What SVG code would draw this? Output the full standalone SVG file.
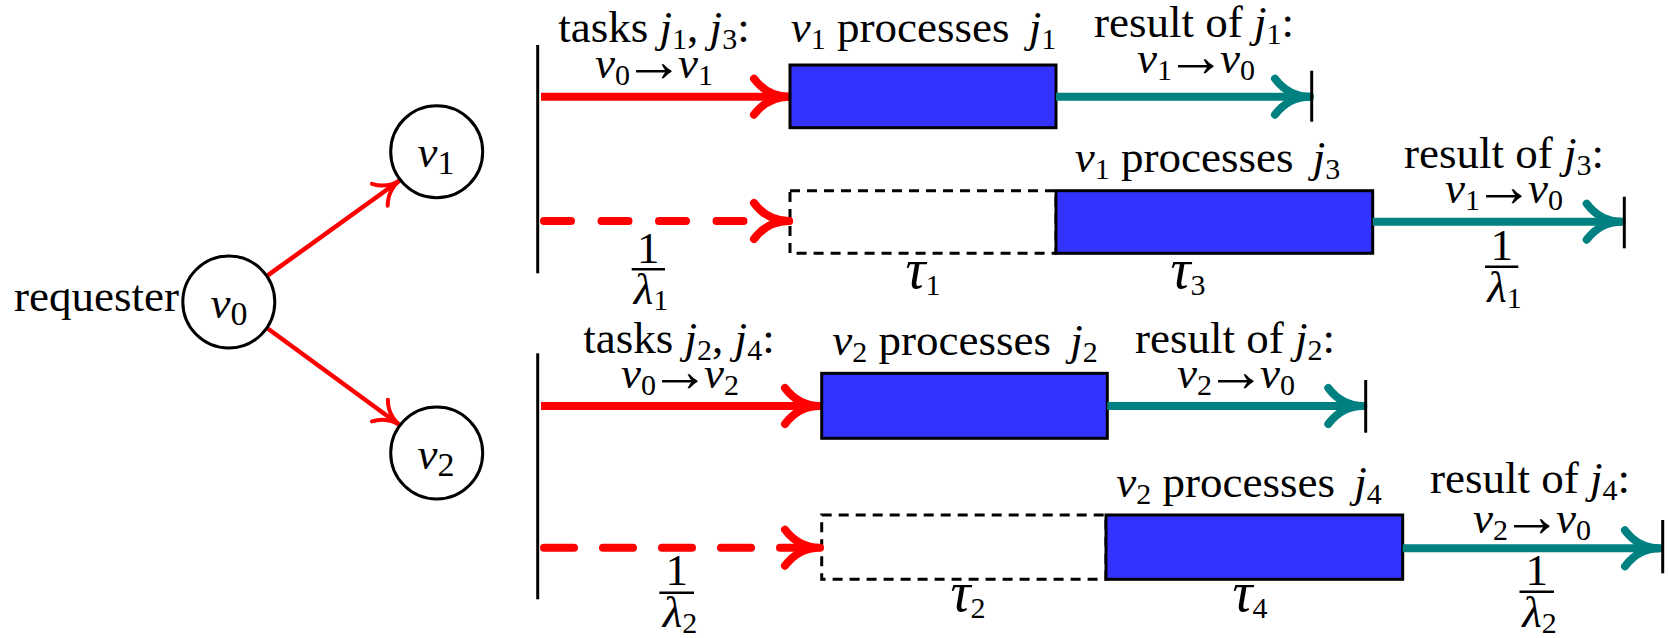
<svg xmlns="http://www.w3.org/2000/svg" width="1669" height="638" viewBox="0 0 1669 638">
<style>
.t{font-family:"Liberation Serif","Times New Roman",serif;font-size:45px;fill:#000}
.i{font-style:italic}
.s{font-size:30px;font-style:normal}
.ar{font-size:60px}
.tau{font-size:56px;font-style:italic}
.node{fill:#fff;stroke:#000;stroke-width:3}
.box{fill:#3333FF;stroke:#000;stroke-width:3}
.dbox{fill:none;stroke:#000;stroke-width:3;stroke-dasharray:10 7}
.axis{stroke:#000;stroke-width:3;fill:none}
.red{stroke:#FF0000;stroke-width:8;fill:none}
.teal{stroke:#008080;stroke-width:8;fill:none}
.bar{stroke:#000;stroke-width:2.5}
</style>
<defs>
<marker id="ahRed" markerUnits="userSpaceOnUse" viewBox="-45 -25 50 50" refX="0" refY="0" markerWidth="50" markerHeight="50" orient="auto" overflow="visible">
<path d="M-35,-18 C-26,-6 -14,0 0,0 C-14,0 -26,6 -35,18" fill="none" stroke="#FF0000" stroke-width="8" stroke-linecap="round" stroke-linejoin="round"/>
</marker>
<marker id="ahTeal" markerUnits="userSpaceOnUse" viewBox="-45 -25 50 50" refX="0" refY="0" markerWidth="50" markerHeight="50" orient="auto" overflow="visible">
<path d="M-35,-18 C-26,-6 -14,0 0,0 C-14,0 -26,6 -35,18" fill="none" stroke="#008080" stroke-width="8" stroke-linecap="round" stroke-linejoin="round"/>
</marker>
<marker id="ahSmall" markerUnits="userSpaceOnUse" viewBox="-35 -20 40 40" refX="0" refY="0" markerWidth="40" markerHeight="40" orient="auto" overflow="visible">
<path d="M-27,-13.5 C-20,-4 -10,0 0,0 C-10,0 -20,4 -27,13.5" fill="none" stroke="#FF0000" stroke-width="4" stroke-linecap="round" stroke-linejoin="round"/>
</marker>
</defs>

<g id="connectors">
<line x1="266" y1="276.7" x2="401.7" y2="179" stroke="#FF0000" stroke-width="4.5" marker-end="url(#ahSmall)"/>
<line x1="266.7" y1="327.7" x2="401.7" y2="426.5" stroke="#FF0000" stroke-width="4.5" marker-end="url(#ahSmall)"/>
</g>

<g id="node-v0">
<circle class="node" cx="228.8" cy="302" r="46"/>
<text class="t" x="229" y="318" text-anchor="middle" font-size="54"><tspan class="i">v</tspan><tspan font-size="34" dy="7">0</tspan></text>
</g>
<g id="node-v1">
<circle class="node" cx="436.7" cy="151.7" r="46"/>
<text class="t" x="436" y="167" text-anchor="middle" font-size="54"><tspan class="i">v</tspan><tspan font-size="34" dy="7">1</tspan></text>
</g>
<g id="node-v2">
<circle class="node" cx="436.7" cy="453" r="46"/>
<text class="t" x="436" y="468.5" text-anchor="middle" font-size="54"><tspan class="i">v</tspan><tspan font-size="34" dy="7">2</tspan></text>
</g>
<g id="label-requester">
<text class="t" x="14" y="310.7" font-size="39.5">requester</text>
</g>

<g id="timeline-v1">
<line class="axis" x1="537.7" y1="45" x2="537.7" y2="273.3"/>
<line class="red" x1="541" y1="96.7" x2="789" y2="96.7" marker-end="url(#ahRed)"/>
<rect class="box" x="790" y="65" width="266" height="62.7"/>
<line class="teal" x1="1056" y1="96.7" x2="1310" y2="96.7" marker-end="url(#ahTeal)"/>
<line class="axis" x1="1311.7" y1="70.7" x2="1311.7" y2="121.7"/>
<rect class="dbox" x="790" y="190.7" width="266" height="62.6"/>
<rect class="box" x="1056" y="190.7" width="316.7" height="62.6"/>
<line class="red" x1="544" y1="221" x2="789" y2="221" stroke-dasharray="27 30.5" stroke-linecap="round" marker-end="url(#ahRed)"/>
<line class="teal" x1="1372.7" y1="221.7" x2="1621.7" y2="221.7" marker-end="url(#ahTeal)"/>
<line class="axis" x1="1624.3" y1="196.7" x2="1624.3" y2="248.3"/>

<text class="t" x="654" y="42" text-anchor="middle">tasks <tspan class="i">j</tspan><tspan class="s" dy="7">1</tspan><tspan dy="-7">, </tspan><tspan class="i">j</tspan><tspan class="s" dy="7">3</tspan><tspan dy="-7">:</tspan></text>
<text class="t" x="654" y="78" text-anchor="middle"><tspan class="i">v</tspan><tspan class="s" dy="7">0</tspan><tspan class="ar" dy="-4" dx="-6">→</tspan><tspan class="i" dy="-3" dx="-6">v</tspan><tspan class="s" dy="7">1</tspan></text>
<text class="t" x="923.5" y="42" text-anchor="middle"><tspan class="i">v</tspan><tspan class="s" dy="7">1</tspan><tspan dy="-7"> processes </tspan><tspan class="i" dx="8">j</tspan><tspan class="s" dy="7">1</tspan></text>
<text class="t" x="1194" y="37" text-anchor="middle">result of <tspan class="i">j</tspan><tspan class="s" dy="7">1</tspan><tspan dy="-7">:</tspan></text>
<text class="t" x="1196" y="73" text-anchor="middle"><tspan class="i">v</tspan><tspan class="s" dy="7">1</tspan><tspan class="ar" dy="-4" dx="-6">→</tspan><tspan class="i" dy="-3" dx="-6">v</tspan><tspan class="s" dy="7">0</tspan></text>
<text class="t" x="1207.5" y="172" text-anchor="middle"><tspan class="i">v</tspan><tspan class="s" dy="7">1</tspan><tspan dy="-7"> processes </tspan><tspan class="i" dx="8">j</tspan><tspan class="s" dy="7">3</tspan></text>
<text class="t" x="1504" y="168" text-anchor="middle">result of <tspan class="i">j</tspan><tspan class="s" dy="7">3</tspan><tspan dy="-7">:</tspan></text>
<text class="t" x="1504" y="203" text-anchor="middle"><tspan class="i">v</tspan><tspan class="s" dy="7">1</tspan><tspan class="ar" dy="-4" dx="-6">→</tspan><tspan class="i" dy="-3" dx="-6">v</tspan><tspan class="s" dy="7">0</tspan></text>
<text class="t" x="648.3" y="263" text-anchor="middle" font-size="44">1</text>
<line class="bar" x1="631.7" y1="269.3" x2="665" y2="269.3"/>
<text class="t" x="651" y="304" text-anchor="middle" font-size="44"><tspan class="i">λ</tspan><tspan class="s" dy="6">1</tspan></text>
<text class="t" x="923" y="288" text-anchor="middle"><tspan class="tau">τ</tspan><tspan class="s" dy="7" font-size="32">1</tspan></text>
<text class="t" x="1188" y="288" text-anchor="middle"><tspan class="tau">τ</tspan><tspan class="s" dy="7" font-size="32">3</tspan></text>
<text class="t" x="1501.7" y="260" text-anchor="middle" font-size="44">1</text>
<line class="bar" x1="1485" y1="266.7" x2="1518.3" y2="266.7"/>
<text class="t" x="1504.5" y="302" text-anchor="middle" font-size="44"><tspan class="i">λ</tspan><tspan class="s" dy="6">1</tspan></text>
</g>

<g id="timeline-v2">
<line class="axis" x1="537.7" y1="353.3" x2="537.7" y2="599.3"/>
<line class="red" x1="541" y1="406" x2="820" y2="406" marker-end="url(#ahRed)"/>
<rect class="box" x="821.7" y="373.3" width="285.6" height="65"/>
<line class="teal" x1="1107.3" y1="406" x2="1363.3" y2="406" marker-end="url(#ahTeal)"/>
<line class="axis" x1="1365.7" y1="380" x2="1365.7" y2="432.7"/>
<rect class="dbox" x="821.7" y="515" width="284.3" height="64.3"/>
<rect class="box" x="1106" y="515" width="296.7" height="64.3"/>
<line class="red" x1="544" y1="547.7" x2="820" y2="547.7" stroke-dasharray="30 29" stroke-linecap="round" marker-end="url(#ahRed)"/>
<line class="teal" x1="1402.7" y1="548.3" x2="1660" y2="548.3" marker-end="url(#ahTeal)"/>
<line class="axis" x1="1662.7" y1="520" x2="1662.7" y2="573.3"/>

<text class="t" x="679" y="353" text-anchor="middle">tasks <tspan class="i">j</tspan><tspan class="s" dy="7">2</tspan><tspan dy="-7">, </tspan><tspan class="i">j</tspan><tspan class="s" dy="7">4</tspan><tspan dy="-7">:</tspan></text>
<text class="t" x="680" y="388" text-anchor="middle"><tspan class="i">v</tspan><tspan class="s" dy="7">0</tspan><tspan class="ar" dy="-4" dx="-6">→</tspan><tspan class="i" dy="-3" dx="-6">v</tspan><tspan class="s" dy="7">2</tspan></text>
<text class="t" x="965" y="355" text-anchor="middle"><tspan class="i">v</tspan><tspan class="s" dy="7">2</tspan><tspan dy="-7"> processes </tspan><tspan class="i" dx="8">j</tspan><tspan class="s" dy="7">2</tspan></text>
<text class="t" x="1235" y="353" text-anchor="middle">result of <tspan class="i">j</tspan><tspan class="s" dy="7">2</tspan><tspan dy="-7">:</tspan></text>
<text class="t" x="1236" y="388" text-anchor="middle"><tspan class="i">v</tspan><tspan class="s" dy="7">2</tspan><tspan class="ar" dy="-4" dx="-6">→</tspan><tspan class="i" dy="-3" dx="-6">v</tspan><tspan class="s" dy="7">0</tspan></text>
<text class="t" x="1249" y="497" text-anchor="middle"><tspan class="i">v</tspan><tspan class="s" dy="7">2</tspan><tspan dy="-7"> processes </tspan><tspan class="i" dx="8">j</tspan><tspan class="s" dy="7">4</tspan></text>
<text class="t" x="1530" y="493" text-anchor="middle">result of <tspan class="i">j</tspan><tspan class="s" dy="7">4</tspan><tspan dy="-7">:</tspan></text>
<text class="t" x="1532" y="533" text-anchor="middle"><tspan class="i">v</tspan><tspan class="s" dy="7">2</tspan><tspan class="ar" dy="-4" dx="-6">→</tspan><tspan class="i" dy="-3" dx="-6">v</tspan><tspan class="s" dy="7">0</tspan></text>
<text class="t" x="676.7" y="585" text-anchor="middle" font-size="44">1</text>
<line class="bar" x1="659.3" y1="592.7" x2="694" y2="592.7"/>
<text class="t" x="680" y="627" text-anchor="middle" font-size="44"><tspan class="i">λ</tspan><tspan class="s" dy="6">2</tspan></text>
<text class="t" x="968" y="611" text-anchor="middle"><tspan class="tau">τ</tspan><tspan class="s" dy="7" font-size="32">2</tspan></text>
<text class="t" x="1250" y="611" text-anchor="middle"><tspan class="tau">τ</tspan><tspan class="s" dy="7" font-size="32">4</tspan></text>
<text class="t" x="1536.7" y="585" text-anchor="middle" font-size="44">1</text>
<line class="bar" x1="1519.5" y1="591.7" x2="1554" y2="591.7"/>
<text class="t" x="1539.5" y="627" text-anchor="middle" font-size="44"><tspan class="i">λ</tspan><tspan class="s" dy="6">2</tspan></text>
</g>
</svg>
